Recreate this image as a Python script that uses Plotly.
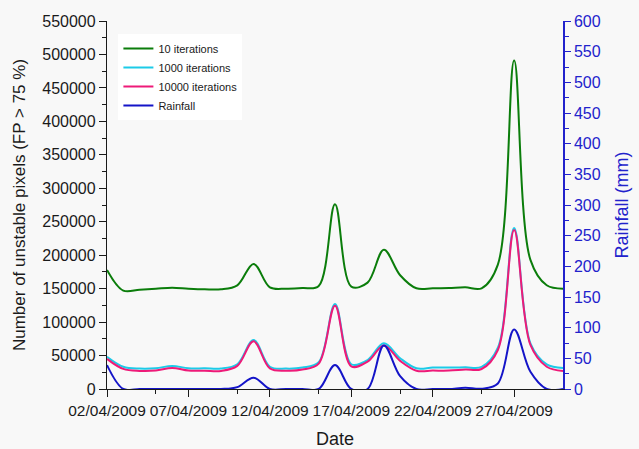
import plotly.graph_objects as go

dates = ["2009-04-02", "2009-04-03", "2009-04-04", "2009-04-05", "2009-04-06",
         "2009-04-07", "2009-04-08", "2009-04-09", "2009-04-10", "2009-04-11",
         "2009-04-12", "2009-04-13", "2009-04-14", "2009-04-15", "2009-04-16",
         "2009-04-17", "2009-04-18", "2009-04-19", "2009-04-20", "2009-04-21",
         "2009-04-22", "2009-04-23", "2009-04-24", "2009-04-25", "2009-04-26",
         "2009-04-27", "2009-04-28", "2009-04-29", "2009-04-30"]

iter_10 = [178000, 147000, 148500, 150000, 151500, 150000, 149000, 149000, 155000, 187000,
           152000, 150000, 151000, 154000, 276000, 153000, 159000, 208000, 170000, 150500,
           150500, 151000, 152000, 150500, 186000, 491000, 193000, 155000, 150000]

iter_1000 = [48300, 33300, 30500, 31000, 34500, 31000, 30900, 30500, 37000, 73200,
             33300, 30500, 32000, 39900, 127000, 37000, 43300, 68300, 46000, 31000,
             32000, 32000, 32500, 33000, 61700, 240500, 68300, 36900, 31500]

iter_10000 = [45000, 30000, 27000, 27500, 31500, 27500, 27400, 27000, 34500, 71200,
              30900, 27400, 29000, 38000, 124500, 33800, 40800, 65000, 42000, 27400,
              27500, 27500, 29000, 29900, 58300, 237600, 65800, 33300, 27000]

rainfall = [39, 0, 0, 0, 0, 0, 0, 0, 3, 18.5,
            0, 0, 0, 0, 39, 0, 0, 71, 21, 0,
            0, 0, 2, 0.5, 9, 97, 28, 0, 0]

major_dates = ["2009-04-02", "2009-04-07", "2009-04-12", "2009-04-17", "2009-04-22", "2009-04-27"]
minor_dates = ["2009-04-05", "2009-04-10", "2009-04-15", "2009-04-20", "2009-04-25"]

GREEN = "#0b7d0b"
CYAN = "#1ccbe8"
PINK = "#ee1a78"
BLUE = "#1414c8"
AXBLUE = "#2222cc"
FONT = "Arial, Liberation Sans, sans-serif"
BG = "#f8f8f8"

fig = go.Figure()
fig.add_trace(go.Scatter(x=dates, y=iter_10, name="10 iterations", mode="lines",
                         line=dict(color=GREEN, width=2, shape="spline", smoothing=1)))
fig.add_trace(go.Scatter(x=dates, y=iter_1000, name="1000 iterations", mode="lines",
                         line=dict(color=CYAN, width=2, shape="spline", smoothing=1)))
fig.add_trace(go.Scatter(x=dates, y=iter_10000, name="10000 iterations", mode="lines",
                         line=dict(color=PINK, width=2, shape="spline", smoothing=1)))
fig.add_trace(go.Scatter(x=dates, y=rainfall, name="Rainfall", mode="lines", yaxis="y2",
                         line=dict(color=BLUE, width=2, shape="spline", smoothing=1)))

fig.update_layout(
    width=639, height=449,
    margin=dict(l=107, r=76, t=21, b=60, autoexpand=False),
    paper_bgcolor=BG, plot_bgcolor=BG,
    font=dict(family=FONT, size=16, color="#1a1a1a"),
    showlegend=True,
    legend=dict(x=0.025, y=0.965, xanchor="left", yanchor="top",
                bgcolor="white", font=dict(size=11, color="#1a1a1a"),
                itemwidth=30, tracegroupgap=0),
    xaxis=dict(
        type="date", range=["2009-04-02", "2009-04-30"], automargin=False,
        tickmode="array", tickvals=major_dates, tickformat="%d/%m/%Y", tickangle=0,
        ticks="outside", ticklen=7, tickwidth=1.2, tickcolor="#1a1a1a",
        minor=dict(tickmode="array", tickvals=minor_dates, ticks="outside",
                   ticklen=4, tickcolor="#1a1a1a", showgrid=False),
        showline=True, linecolor="#1a1a1a", linewidth=1.3,
        showgrid=False, zeroline=False,
        title=dict(text="Date", font=dict(size=18), standoff=15),
        tickfont=dict(size=15.5),
    ),
    xaxis2=dict(
        type="date", overlaying="x", side="top", anchor="y", matches="x",
        range=["2009-04-02", "2009-04-30"], automargin=False,
        tickmode="array", tickvals=major_dates,
        ticks="inside", ticklen=5, tickcolor="#1a1a1a",
        minor=dict(tickmode="array", tickvals=minor_dates, ticks="inside",
                   ticklen=4, tickcolor="#1a1a1a", showgrid=False),
        showticklabels=False, showline=True, linecolor="#1a1a1a", linewidth=1.3,
        showgrid=False, zeroline=False,
    ),
    yaxis=dict(
        range=[0, 550000], tickmode="linear", tick0=0, dtick=50000, tickformat="d",
        automargin=False,
        ticks="outside", ticklen=7, tickwidth=1.2, tickcolor="#1a1a1a",
        minor=dict(dtick=25000, ticks="outside", ticklen=4, tickcolor="#1a1a1a", showgrid=False),
        showline=True, linecolor="#1a1a1a", linewidth=1.3,
        showgrid=False, zeroline=False,
        title=dict(text="Number of unstable pixels (FP > 75 %)", font=dict(size=17), standoff=12),
        tickfont=dict(size=16),
    ),
    yaxis2=dict(
        overlaying="y", side="right", anchor="x", automargin=False,
        range=[0, 600], tickmode="linear", tick0=0, dtick=50,
        ticks="outside", ticklen=6, tickwidth=1.2, tickcolor=AXBLUE,
        minor=dict(dtick=25, ticks="outside", ticklen=4, tickcolor=AXBLUE, showgrid=False),
        showline=True, linecolor=AXBLUE, linewidth=1.5,
        showgrid=False, zeroline=False,
        tickfont=dict(size=16, color=AXBLUE),
        title=dict(text="Rainfall (mm)", font=dict(size=18, color=AXBLUE), standoff=16),
    ),
)

fig.write_html("out.html")
